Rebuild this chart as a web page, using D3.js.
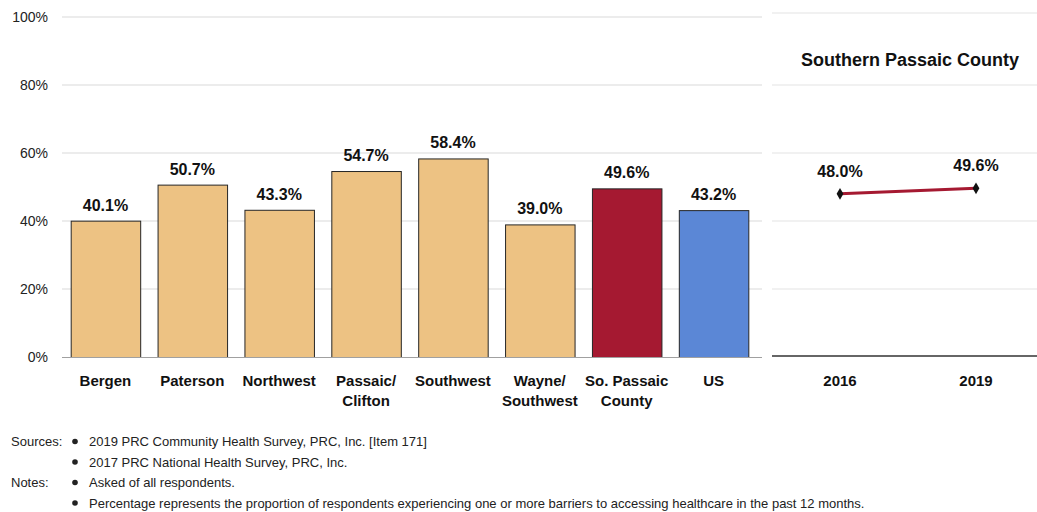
<!DOCTYPE html>
<html><head><meta charset="utf-8">
<script src="https://cdn.jsdelivr.net/npm/d3@7"></script>
<style>
body{margin:0;background:#fff;}
svg{display:block;font-family:"Liberation Sans Narrow","Arial Narrow","Liberation Sans",Arial,sans-serif;}
</style></head><body>
<svg id="c" width="1037" height="512"></svg>
<script>
const categories = [["Bergen"],["Paterson"],["Northwest"],["Passaic/","Clifton"],["Southwest"],["Wayne/","Southwest"],["So. Passaic","County"],["US"]];
const values = [40.1, 50.7, 43.3, 54.7, 58.4, 39.0, 49.6, 43.2];
const barColors = ["#EDC283","#EDC283","#EDC283","#EDC283","#EDC283","#EDC283","#A51931","#5B87D6"];
const yTicks = [0, 20, 40, 60, 80, 100];
const trendYears = ["2016", "2019"];
const trendValues = [48.0, 49.6];
const trendTitle = "Southern Passaic County";
const sources = ["2019 PRC Community Health Survey, PRC, Inc. [Item 171]", "2017 PRC National Health Survey, PRC, Inc."];
const notes = ["Asked of all respondents.", "Percentage represents the proportion of respondents experiencing one or more barriers to accessing healthcare in the past 12 months."];

const svg = d3.select("#c");
const y = d3.scaleLinear().domain([0, 100]).range([357, 17]);
const x = d3.scaleBand().domain(d3.range(values.length)).range([62, 757]).paddingInner(0.2).paddingOuter(0.1);

// left grid
svg.append("g").selectAll("line").data(yTicks.filter(d => d > 0)).join("line")
  .attr("x1", 62).attr("x2", 762).attr("y1", d => y(d)).attr("y2", d => y(d))
  .attr("stroke", "#d9d9d9").attr("stroke-width", 1);
// right grid
svg.append("g").selectAll("line").data(yTicks.filter(d => d > 0 && d < 100)).join("line")
  .attr("x1", 772).attr("x2", 1037).attr("y1", d => y(d)).attr("y2", d => y(d))
  .attr("stroke", "#e3e3e3").attr("stroke-width", 1);
svg.append("line").attr("x1", 772).attr("x2", 1037).attr("y1", 13).attr("y2", 13).attr("stroke", "#e3e3e3");

// y axis labels
const yAxis = d3.axisLeft(y).tickValues(yTicks).tickFormat(d => d + "%").tickSize(0).tickPadding(0);
const ga = svg.append("g").attr("transform", "translate(48,0)").call(yAxis);
ga.select(".domain").remove();
ga.selectAll("text").attr("font-size", 14).attr("fill", "#222").style("font-family", "inherit");

// bars
svg.append("g").selectAll("rect").data(values).join("rect")
  .attr("x", (d, i) => x(i) + 0.5).attr("width", x.bandwidth())
  .attr("y", d => y(d) + 0.5).attr("height", d => y(0) - y(d))
  .attr("fill", (d, i) => barColors[i]).attr("stroke", "#262626").attr("stroke-width", 1);

// baseline
svg.append("line").attr("x1", 62).attr("x2", 762).attr("y1", 357.5).attr("y2", 357.5).attr("stroke", "#a0a0a0");

// value labels
svg.append("g").selectAll("text").data(values).join("text")
  .attr("x", (d, i) => x(i) + x.bandwidth() / 2).attr("y", d => y(d) - 10)
  .attr("text-anchor", "middle").attr("font-size", 16).attr("font-weight", "bold").attr("fill", "#111")
  .text(d => d.toFixed(1) + "%");

// category labels
const cl = svg.append("g").selectAll("text").data(categories).join("text")
  .attr("text-anchor", "middle").attr("font-size", 15).attr("font-weight", "bold").attr("fill", "#111");
cl.each(function(d, i) {
  d3.select(this).selectAll("tspan").data(d).join("tspan")
    .attr("x", x(i) + x.bandwidth() / 2).attr("y", (t, j) => 386 + j * 20).text(t => t);
});

// right panel
const xp = d3.scalePoint().domain(trendYears).range([772, 1044]).padding(0.5);
svg.append("line").attr("x1", 772).attr("x2", 1037).attr("y1", 356).attr("y2", 356).attr("stroke", "#333").attr("stroke-width", 1.5);
svg.append("text").attr("x", 910).attr("y", 66).attr("text-anchor", "middle").attr("font-size", 18).attr("font-weight", "bold").attr("fill", "#111").text(trendTitle);
const line = d3.line().x((d, i) => xp(trendYears[i])).y(d => y(d));
svg.append("path").datum(trendValues).attr("d", line).attr("fill", "none").attr("stroke", "#A51931").attr("stroke-width", 3);
svg.append("g").selectAll("path").data(trendValues).join("path")
  .attr("d", d3.symbol(d3.symbolDiamond, 40))
  .attr("transform", (d, i) => `translate(${xp(trendYears[i])},${y(d)})`).attr("fill", "#111");
svg.append("g").selectAll("text").data(trendValues).join("text")
  .attr("x", (d, i) => xp(trendYears[i])).attr("y", d => y(d) - 17)
  .attr("text-anchor", "middle").attr("font-size", 16).attr("font-weight", "bold").attr("fill", "#111")
  .text(d => d.toFixed(1) + "%");
svg.append("g").selectAll("text").data(trendYears).join("text")
  .attr("x", d => xp(d)).attr("y", 386).attr("text-anchor", "middle").attr("font-size", 15).attr("font-weight", "bold").attr("fill", "#111").text(d => d);

// footer
const foot = svg.append("g").attr("font-size", 13).attr("fill", "#222");
const rows = [["Sources:", sources[0]], ["", sources[1]], ["Notes:", notes[0]], ["", notes[1]]];
rows.forEach((r, i) => {
  const yy = 446 + i * 20.5;
  if (r[0]) foot.append("text").attr("x", 11).attr("y", yy).text(r[0]);
  foot.append("circle").attr("cx", 75).attr("cy", yy - 4.5).attr("r", 2.8).attr("fill", "#222");
  foot.append("text").attr("x", 89).attr("y", yy).text(r[1]);
});
</script>
</body></html>
